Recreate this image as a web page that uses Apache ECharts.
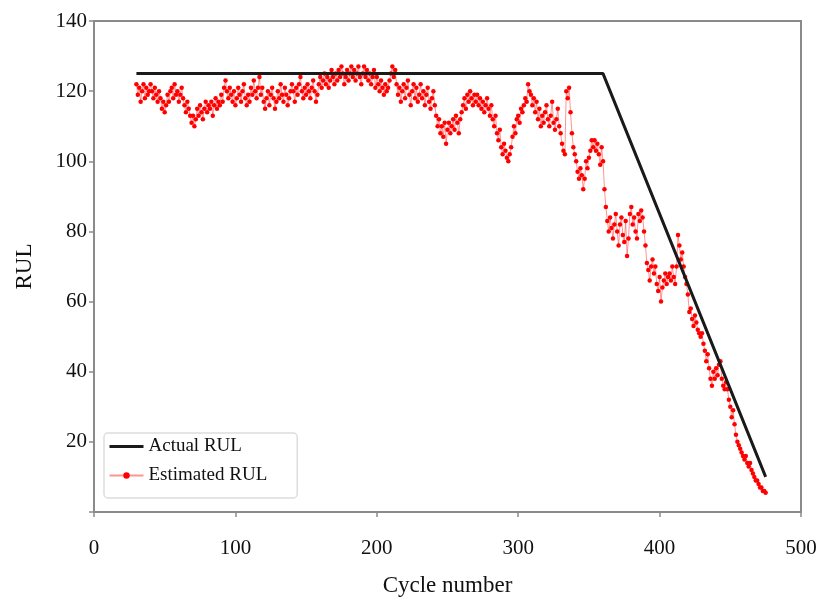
<!DOCTYPE html>
<html>
<head>
<meta charset="utf-8">
<script src="https://cdn.jsdelivr.net/npm/echarts@6/dist/echarts.min.js"></script>
<style>html,body{margin:0;padding:0;background:#fff;}#c{width:822px;height:603px;}</style>
</head>
<body>
<div id="c"></div>
<script>
// Actual RUL: piecewise line (cycle, RUL)
const actualCycles = [30, 360, 475];
const actualRUL = [125, 125, 10];

// Estimated RUL: one value per cycle, starting at cycle 30
const estStartCycle = 30;
const estimatedRUL = [
  122, 119, 121, 117, 120, 122, 118, 121, 119, 120,
  122, 120, 118, 121, 119, 117, 120, 118, 115, 117,
  114, 116, 119, 117, 120, 121, 118, 122, 119, 120,
  117, 119, 121, 118, 116, 114, 117, 115, 113, 111,
  113, 110, 112, 115, 113, 116, 114, 112, 115, 117,
  114, 116, 115, 117, 113, 116, 118, 115, 117, 116,
  119, 117, 121, 123, 120, 118, 121, 119, 117, 120,
  116, 118, 121, 119, 117, 120, 122, 118, 116, 119,
  117, 121, 119, 123, 120, 118, 121, 124, 119, 121,
  117, 115, 118, 120, 116, 119, 121, 118, 115, 117,
  120, 118, 122, 119, 117, 121, 119, 116, 118, 120,
  122, 120, 117, 121, 119, 122, 124, 120, 118, 121,
  119, 122, 120, 118, 121, 123, 120, 117, 119, 122,
  124, 121, 123, 125, 122, 124, 121, 123, 126, 124,
  122, 125, 123, 126, 124, 127, 125, 122, 124, 126,
  123, 125, 127, 124, 126, 123, 125, 127, 124, 122,
  125, 127, 124, 126, 123, 125, 122, 124, 126, 121,
  124, 122, 120, 123, 121, 119, 122, 120, 121, 123,
  125, 127, 124, 126, 122, 119, 121, 117, 120, 122,
  118, 121, 123, 119, 116, 120, 122, 118, 121, 117,
  119, 122, 118, 120, 116, 119, 121, 117, 115, 118,
  120, 116, 113, 110, 112, 108, 110, 107, 111, 105,
  109, 111, 108, 110, 112, 109, 113, 111, 108, 112,
  114, 116, 118, 115, 119, 117, 120, 118, 116, 119,
  117, 119, 116, 118, 115, 117, 114, 116, 118, 115,
  113, 116, 112, 110, 113, 108, 106, 109, 104, 102,
  105, 103, 101, 100, 102, 104, 107, 110, 108, 112,
  113, 111, 115, 114, 116, 118, 117, 122, 120, 119,
  116, 118, 114, 117, 112, 115, 110, 113, 111, 114,
  116, 112, 110, 113, 117, 111, 109, 112, 115, 110,
  108, 105, 103, 102, 120, 118, 121, 114, 108, 104,
  102, 100, 97, 95, 98, 96, 92, 95, 100, 98,
  101, 103, 106, 104, 106, 103, 105, 102, 99, 104,
  100, 92, 87, 83, 80, 84, 81, 78, 82, 85,
  80, 76, 82, 84, 79, 77, 83, 73, 78, 85,
  87, 82, 84, 80, 78, 85, 83, 86, 84, 80,
  76, 71, 69, 66, 70, 72, 68, 70, 65, 63,
  67, 60, 64, 66, 68, 65, 67, 68, 66, 70,
  67, 65, 70, 79, 76, 72, 74, 70, 67, 65,
  62, 57, 58, 55, 53, 56, 54, 52, 51, 50,
  51, 48, 46, 43, 45, 41, 38, 36, 40, 38,
  41, 39, 42, 43, 38, 36, 35, 37, 35, 32,
  30, 27, 29, 25, 22, 20, 19, 18, 17, 16,
  15, 16, 14, 13, 14, 12, 11, 10, 9, 9,
  8, 7, 7, 6, 6, 5.5
];

const xTicks = [0, 100, 200, 300, 400, 500];
const yTicks = [0, 20, 40, 60, 80, 100, 120, 140];

const actualData = actualCycles.map((c, i) => [c, actualRUL[i]]);
const estData = estimatedRUL.map((v, i) => [estStartCycle + i, v]);

const font = 'Liberation Serif, Times New Roman, serif';
const chart = echarts.init(document.getElementById('c'), null, {renderer: 'canvas'});
chart.setOption({
  backgroundColor: '#ffffff',
  animation: false,
  grid: {left: 94, right: 21, top: 21, bottom: 91, show: true, borderColor: '#8a8a8a', borderWidth: 2, backgroundColor: 'transparent'},
  legend: {
    orient: 'vertical',
    left: 104, top: 433,
    padding: [4, 30, 13, 4],
    itemGap: 10,
    itemWidth: 34, itemHeight: 8,
    borderColor: '#dddddd', borderWidth: 1.5, borderRadius: 4,
    backgroundColor: '#ffffff',
    textStyle: {fontFamily: font, fontSize: 19, color: '#111'},
    data: [
      {name: 'Actual RUL', itemStyle: {color: 'rgba(0,0,0,0)', borderWidth: 0, opacity: 0}, lineStyle: {width: 3}},
      {name: 'Estimated RUL', itemStyle: {borderWidth: 0}}
    ]
  },
  xAxis: {
    type: 'value', min: xTicks[0], max: xTicks[xTicks.length - 1], interval: 100,
    name: 'Cycle number', nameLocation: 'middle', nameGap: 62,
    nameTextStyle: {fontFamily: font, fontSize: 23, color: '#111'},
    axisLine: {show: true, lineStyle: {color: '#8a8a8a', width: 2}},
    axisTick: {show: true, length: 5, lineStyle: {color: '#8a8a8a', width: 1.5}},
    axisLabel: {fontFamily: font, fontSize: 21, color: '#111', margin: 26},
    splitLine: {show: false}
  },
  yAxis: {
    type: 'value', min: yTicks[0], max: yTicks[yTicks.length - 1], interval: 20,
    name: 'RUL', nameLocation: 'middle', nameGap: 58, nameRotate: 90,
    nameTextStyle: {fontFamily: font, fontSize: 23, color: '#111'},
    axisLine: {show: true, lineStyle: {color: '#8a8a8a', width: 2}},
    axisTick: {show: true, length: 5, lineStyle: {color: '#8a8a8a', width: 1.5}},
    axisLabel: {fontFamily: font, fontSize: 21, color: '#111', margin: 7,
      formatter: v => (v === 0 ? '' : String(v))},
    splitLine: {show: false}
  },
  series: [
    {
      name: 'Actual RUL', type: 'line', data: actualData,
      symbol: 'none',
      lineStyle: {color: '#1a1a1a', width: 3},
      itemStyle: {color: '#1a1a1a'},
      z: 3
    },
    {
      name: 'Estimated RUL', type: 'line', data: estData,
      symbol: 'circle', symbolSize: 4.5, showSymbol: true,
      lineStyle: {color: 'rgba(255,60,60,0.55)', width: 1},
      itemStyle: {color: '#ff0000'},
      z: 2
    }
  ]
});
</script>
</body>
</html>
